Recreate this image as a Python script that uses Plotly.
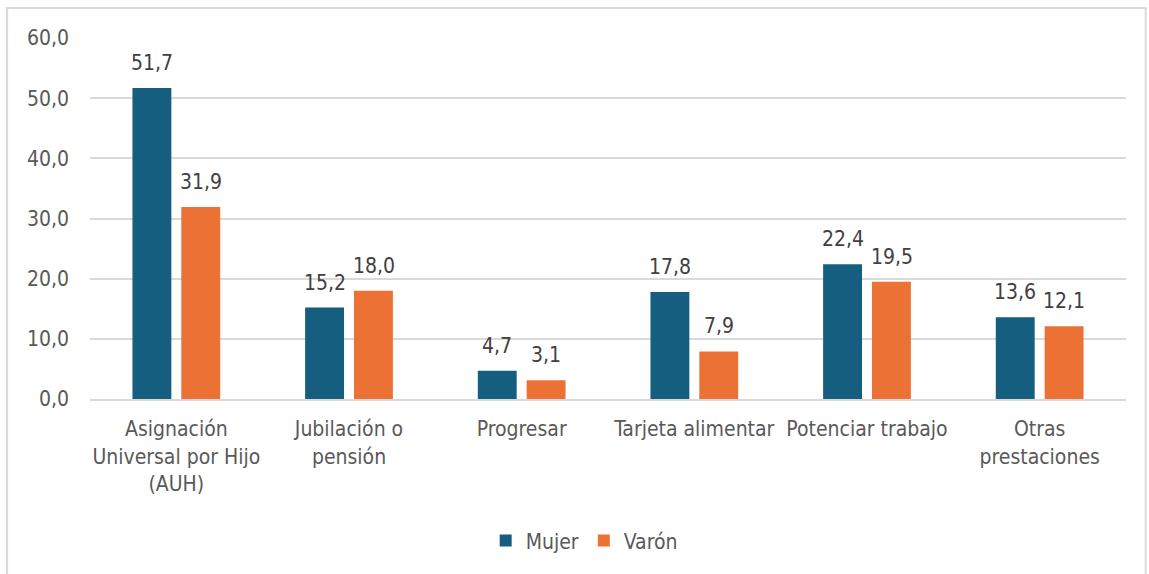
import plotly.graph_objects as go

# Program categories (line breaks as shown under the axis)
categorias = [
    "Asignación<br>Universal por Hijo<br>(AUH)",
    "Jubilación o<br>pensión",
    "Progresar",
    "Tarjeta alimentar",
    "Potenciar trabajo",
    "Otras<br>prestaciones",
]
mujer = [51.7, 15.2, 4.7, 17.8, 22.4, 13.6]
varon = [31.9, 18.0, 3.1, 7.9, 19.5, 12.1]
ticks_y = [0, 10, 20, 30, 40, 50, 60]

FONT = "DejaVu Sans Condensed, Tahoma, Noto Sans, sans-serif"
AZUL = "#165e80"
NARANJA = "#eb7234"
GRIS = "#d9d9d9"

fig = go.Figure()
series = [("Mujer", mujer, AZUL, -24.5), ("Varón", varon, NARANJA, 24.5)]
for nombre, valores, color, _ in series:
    fig.add_trace(go.Bar(
        name=nombre,
        x=categorias,
        y=valores,
        marker=dict(color=color, line=dict(width=0)),
        hovertemplate="%{y:.1f}<extra>" + nombre + "</extra>",
    ))

# Value labels placed above each bar
anotaciones = []
for nombre, valores, color, dx in series:
    for cat, v in zip(categorias, valores):
        anotaciones.append(dict(
            x=cat, y=v, xref="x", yref="y",
            text=f"{v:.1f}".replace(".", ","),
            showarrow=False,
            xshift=dx, yshift=25,
            yanchor="middle",
            font=dict(family=FONT, size=21, color="#404040"),
        ))

fig.update_layout(
    width=1149, height=574,
    margin=dict(l=90, r=23, t=38, b=175),
    paper_bgcolor="white",
    plot_bgcolor="white",
    separators=",.",
    barmode="group",
    bargap=0.434,
    bargroupgap=0.204,
    font=dict(family=FONT, size=21, color="#595959"),
    xaxis=dict(
        showgrid=False,
        showline=True,
        linecolor=GRIS,
        linewidth=2,
        ticks="",
        ticklabelstandoff=10,
        tickfont=dict(family=FONT, size=21, color="#595959"),
    ),
    yaxis=dict(
        range=[0, 60],
        tickvals=ticks_y,
        tickformat=".1f",
        showgrid=True,
        gridcolor=GRIS,
        gridwidth=2,
        zeroline=False,
        showline=False,
        ticks="",
        ticklabelstandoff=20,
        tickfont=dict(family=FONT, size=21, color="#595959"),
    ),
    legend=dict(
        orientation="h",
        x=0.477, xanchor="center",
        y=-0.393, yanchor="middle",
        font=dict(family=FONT, size=21, color="#595959"),
        itemwidth=30,
        traceorder="normal",
    ),
    annotations=anotaciones,
    shapes=[
        dict(
            type="rect", xref="paper", yref="paper",
            x0=-0.080, x1=1.019, y0=-0.6, y1=1.083,
            line=dict(color=GRIS, width=2),
            fillcolor="rgba(0,0,0,0)",
            layer="below",
        )
    ],
)

fig.write_html("out.html")
